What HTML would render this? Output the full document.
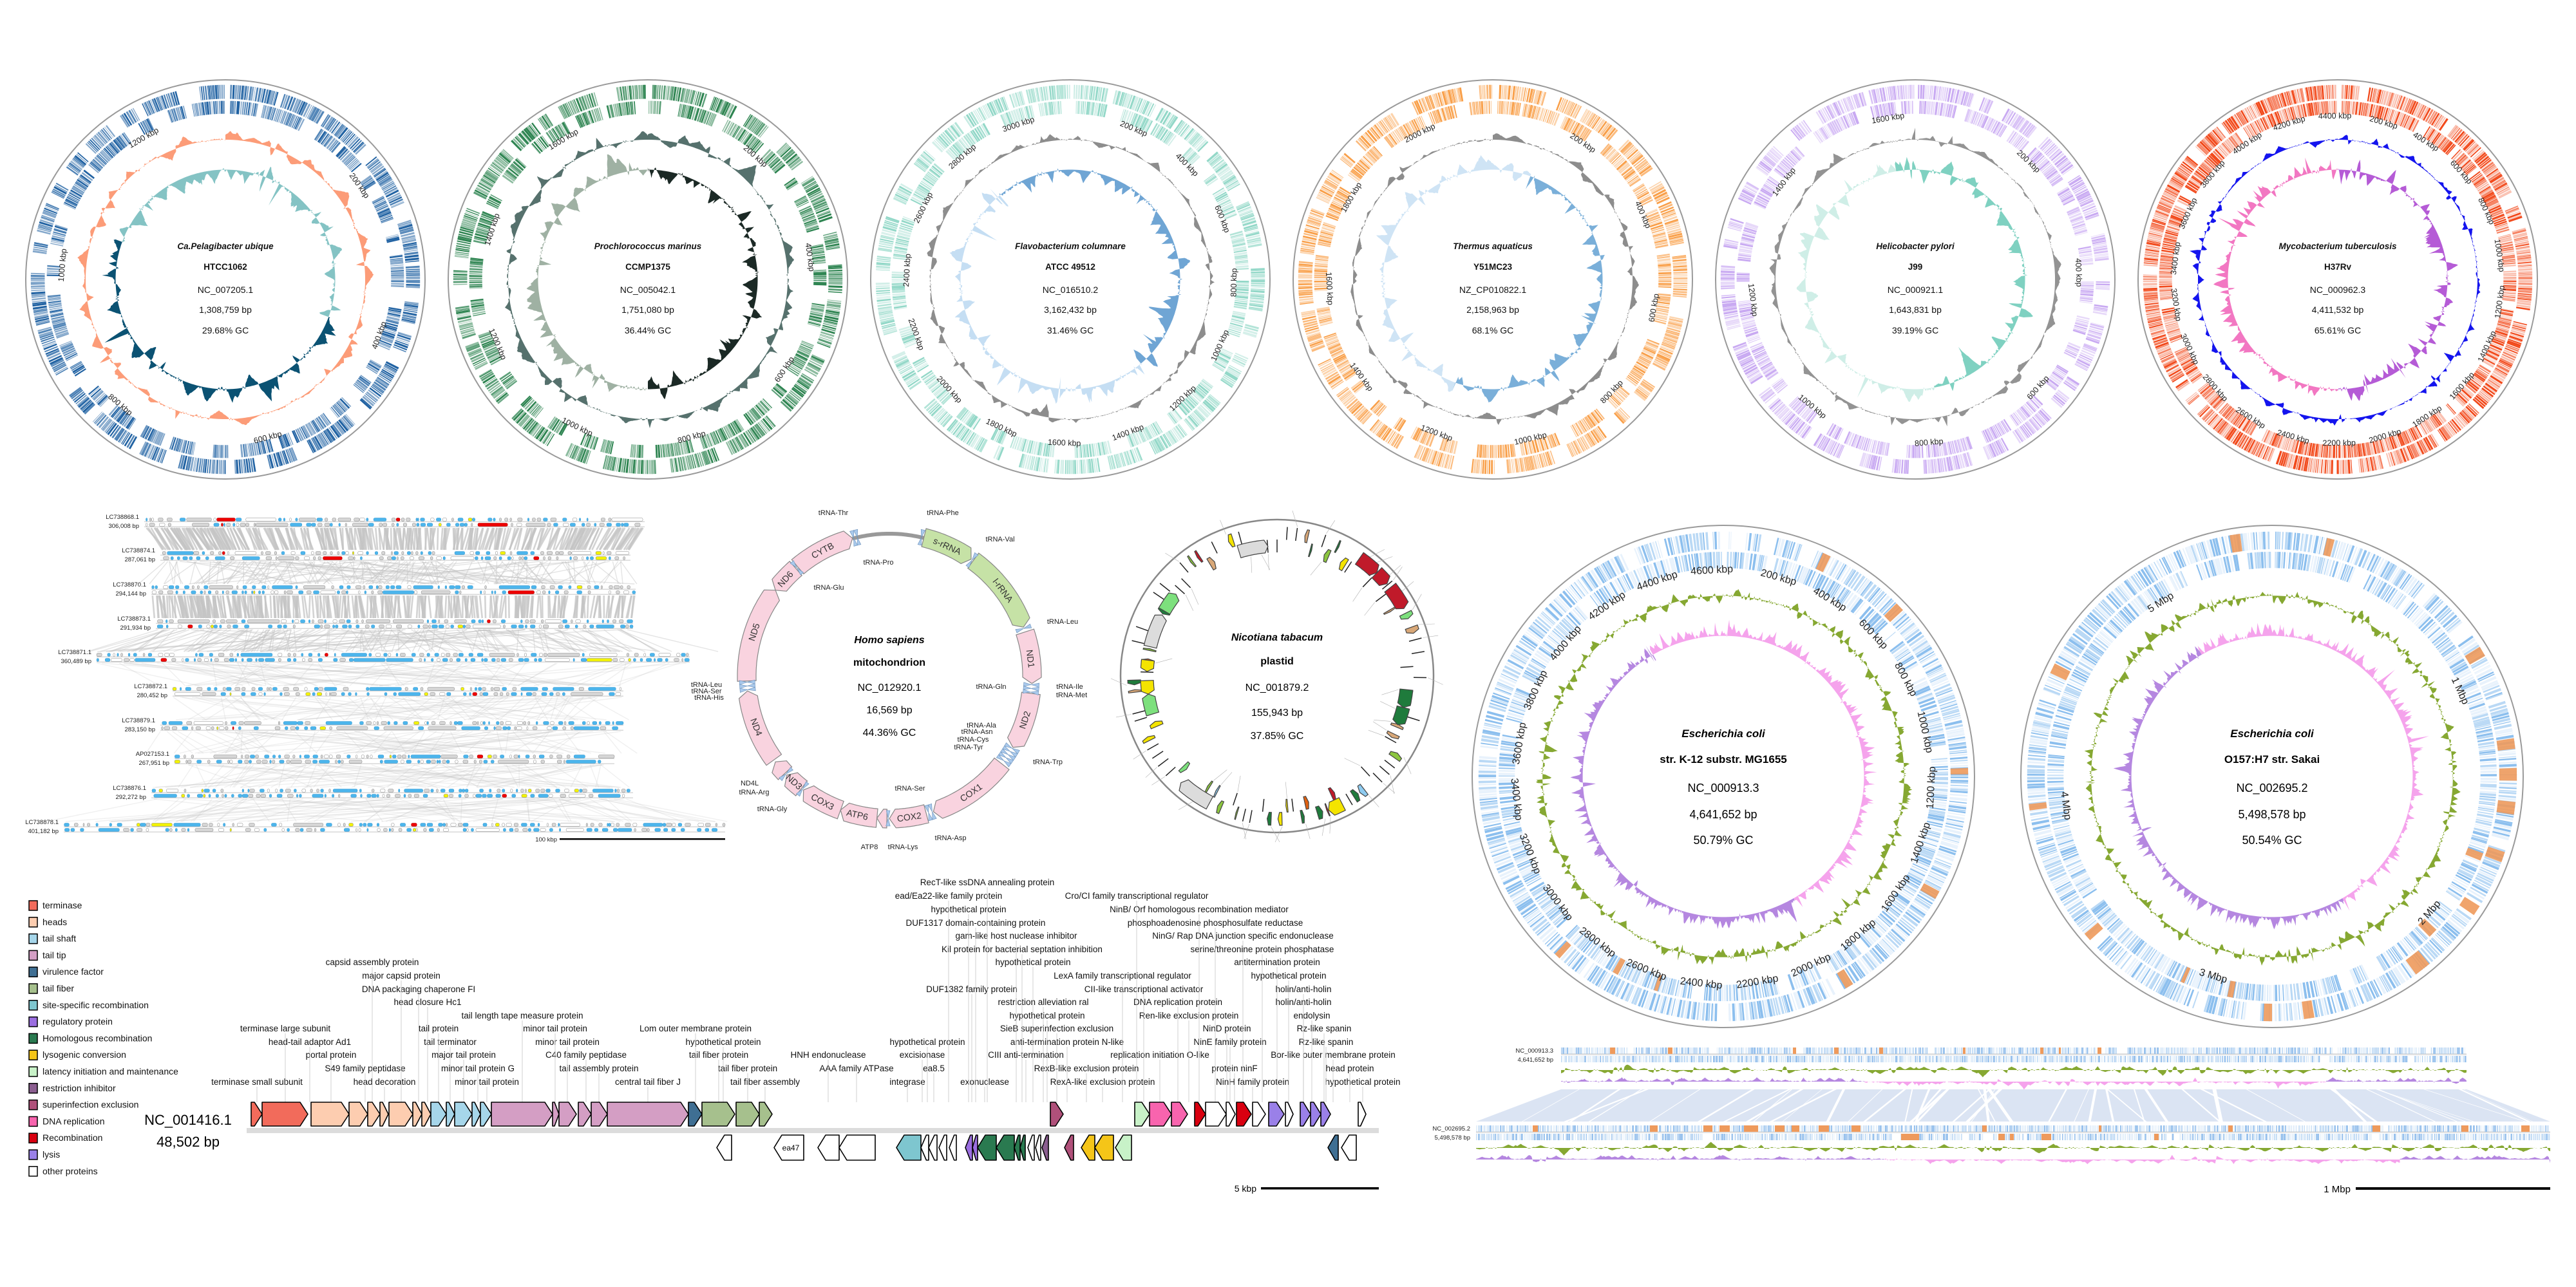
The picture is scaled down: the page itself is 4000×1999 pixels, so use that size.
<!DOCTYPE html>
<html><head><meta charset="utf-8">
<style>
html,body{margin:0;padding:0;background:#fff;}
svg{display:block;font-family:"Liberation Sans",Arial,sans-serif;}
.t1{font-size:13.5px;font-weight:bold;font-style:italic;text-anchor:middle;fill:#111}
.t2{font-size:13.5px;font-weight:bold;text-anchor:middle;fill:#111}
.t3{font-size:14px;text-anchor:middle;fill:#111}
.tk{font-size:12.5px;text-anchor:middle;fill:#222}
.ek{font-size:16px;text-anchor:middle;fill:#222}
.e1{font-size:17px;font-weight:bold;font-style:italic;text-anchor:middle}
.e2{font-size:17px;font-weight:bold;text-anchor:middle}
.e3{font-size:18px;text-anchor:middle}
.m1{font-size:16px;font-weight:bold;font-style:italic;text-anchor:middle}
.m2{font-size:16px;font-weight:bold;text-anchor:middle}
.m3{font-size:16px;text-anchor:middle}
.mg{font-size:14px;text-anchor:middle;fill:#333}
.tr{font-size:11px;text-anchor:middle;fill:#222}
.gl{font-size:13.5px;text-anchor:middle;fill:#111}
.lg{font-size:14px;fill:#111}
.sy{font-size:9.5px;text-anchor:end;fill:#222}
</style></head>
<body>
<svg id="s" width="4000" height="1999" viewBox="0 0 4000 1999" xmlns="http://www.w3.org/2000/svg">
<rect width="4000" height="1999" fill="#fff"/>
<g id="gen"></g>
<g id="txt">
<text class="t1" x="350" y="387">Ca.Pelagibacter ubique</text>
<text class="t2" x="350" y="419">HTCC1062</text>
<text class="t3" x="350" y="455">NC_007205.1</text>
<text class="t3" x="350" y="486">1,308,759 bp</text>
<text class="t3" x="350" y="518">29.68% GC</text>

<text class="t1" x="1006" y="387">Prochlorococcus marinus</text>
<text class="t2" x="1006" y="419">CCMP1375</text>
<text class="t3" x="1006" y="455">NC_005042.1</text>
<text class="t3" x="1006" y="486">1,751,080 bp</text>
<text class="t3" x="1006" y="518">36.44% GC</text>

<text class="t1" x="1662" y="387">Flavobacterium columnare</text>
<text class="t2" x="1662" y="419">ATCC 49512</text>
<text class="t3" x="1662" y="455">NC_016510.2</text>
<text class="t3" x="1662" y="486">3,162,432 bp</text>
<text class="t3" x="1662" y="518">31.46% GC</text>

<text class="t1" x="2318" y="387">Thermus aquaticus</text>
<text class="t2" x="2318" y="419">Y51MC23</text>
<text class="t3" x="2318" y="455">NZ_CP010822.1</text>
<text class="t3" x="2318" y="486">2,158,963 bp</text>
<text class="t3" x="2318" y="518">68.1% GC</text>

<text class="t1" x="2974" y="387">Helicobacter pylori</text>
<text class="t2" x="2974" y="419">J99</text>
<text class="t3" x="2974" y="455">NC_000921.1</text>
<text class="t3" x="2974" y="486">1,643,831 bp</text>
<text class="t3" x="2974" y="518">39.19% GC</text>

<text class="t1" x="3630" y="387">Mycobacterium tuberculosis</text>
<text class="t2" x="3630" y="419">H37Rv</text>
<text class="t3" x="3630" y="455">NC_000962.3</text>
<text class="t3" x="3630" y="486">4,411,532 bp</text>
<text class="t3" x="3630" y="518">65.61% GC</text>

<text class="tk" transform="rotate(55 350 434)" x="350" y="184">200 kbp</text>
<text class="tk" transform="rotate(-70 350 434)" x="350" y="692">400 kbp</text>
<text class="tk" transform="rotate(-15 350 434)" x="350" y="692">600 kbp</text>
<text class="tk" transform="rotate(40 350 434)" x="350" y="692">800 kbp</text>
<text class="tk" transform="rotate(275 350 434)" x="350" y="184">1000 kbp</text>
<text class="tk" transform="rotate(330 350 434)" x="350" y="184">1200 kbp</text>
<text class="tk" transform="rotate(41.1 1006 434)" x="1006" y="184">200 kbp</text>
<text class="tk" transform="rotate(82.2 1006 434)" x="1006" y="184">400 kbp</text>
<text class="tk" transform="rotate(-56.6 1006 434)" x="1006" y="692">600 kbp</text>
<text class="tk" transform="rotate(-15.5 1006 434)" x="1006" y="692">800 kbp</text>
<text class="tk" transform="rotate(25.6 1006 434)" x="1006" y="692">1000 kbp</text>
<text class="tk" transform="rotate(66.7 1006 434)" x="1006" y="692">1200 kbp</text>
<text class="tk" transform="rotate(287.8 1006 434)" x="1006" y="184">1400 kbp</text>
<text class="tk" transform="rotate(328.9 1006 434)" x="1006" y="184">1600 kbp</text>
<text class="tk" transform="rotate(22.8 1662 434)" x="1662" y="184">200 kbp</text>
<text class="tk" transform="rotate(45.5 1662 434)" x="1662" y="184">400 kbp</text>
<text class="tk" transform="rotate(68.3 1662 434)" x="1662" y="184">600 kbp</text>
<text class="tk" transform="rotate(-88.9 1662 434)" x="1662" y="692">800 kbp</text>
<text class="tk" transform="rotate(-66.2 1662 434)" x="1662" y="692">1000 kbp</text>
<text class="tk" transform="rotate(-43.4 1662 434)" x="1662" y="692">1200 kbp</text>
<text class="tk" transform="rotate(-20.6 1662 434)" x="1662" y="692">1400 kbp</text>
<text class="tk" transform="rotate(2.1 1662 434)" x="1662" y="692">1600 kbp</text>
<text class="tk" transform="rotate(24.9 1662 434)" x="1662" y="692">1800 kbp</text>
<text class="tk" transform="rotate(47.7 1662 434)" x="1662" y="692">2000 kbp</text>
<text class="tk" transform="rotate(70.4 1662 434)" x="1662" y="692">2200 kbp</text>
<text class="tk" transform="rotate(273.2 1662 434)" x="1662" y="184">2400 kbp</text>
<text class="tk" transform="rotate(296 1662 434)" x="1662" y="184">2600 kbp</text>
<text class="tk" transform="rotate(318.7 1662 434)" x="1662" y="184">2800 kbp</text>
<text class="tk" transform="rotate(341.5 1662 434)" x="1662" y="184">3000 kbp</text>
<text class="tk" transform="rotate(33.4 2318 434)" x="2318" y="184">200 kbp</text>
<text class="tk" transform="rotate(66.7 2318 434)" x="2318" y="184">400 kbp</text>
<text class="tk" transform="rotate(-80 2318 434)" x="2318" y="692">600 kbp</text>
<text class="tk" transform="rotate(-46.6 2318 434)" x="2318" y="692">800 kbp</text>
<text class="tk" transform="rotate(-13.3 2318 434)" x="2318" y="692">1000 kbp</text>
<text class="tk" transform="rotate(20.1 2318 434)" x="2318" y="692">1200 kbp</text>
<text class="tk" transform="rotate(53.4 2318 434)" x="2318" y="692">1400 kbp</text>
<text class="tk" transform="rotate(86.8 2318 434)" x="2318" y="692">1600 kbp</text>
<text class="tk" transform="rotate(300.1 2318 434)" x="2318" y="184">1800 kbp</text>
<text class="tk" transform="rotate(333.5 2318 434)" x="2318" y="184">2000 kbp</text>
<text class="tk" transform="rotate(43.8 2974 434)" x="2974" y="184">200 kbp</text>
<text class="tk" transform="rotate(87.6 2974 434)" x="2974" y="184">400 kbp</text>
<text class="tk" transform="rotate(-48.6 2974 434)" x="2974" y="692">600 kbp</text>
<text class="tk" transform="rotate(-4.8 2974 434)" x="2974" y="692">800 kbp</text>
<text class="tk" transform="rotate(39 2974 434)" x="2974" y="692">1000 kbp</text>
<text class="tk" transform="rotate(82.8 2974 434)" x="2974" y="692">1200 kbp</text>
<text class="tk" transform="rotate(306.6 2974 434)" x="2974" y="184">1400 kbp</text>
<text class="tk" transform="rotate(350.4 2974 434)" x="2974" y="184">1600 kbp</text>
<text class="tk" transform="rotate(16.3 3630 434)" x="3630" y="184">200 kbp</text>
<text class="tk" transform="rotate(32.6 3630 434)" x="3630" y="184">400 kbp</text>
<text class="tk" transform="rotate(49 3630 434)" x="3630" y="184">600 kbp</text>
<text class="tk" transform="rotate(65.3 3630 434)" x="3630" y="184">800 kbp</text>
<text class="tk" transform="rotate(81.6 3630 434)" x="3630" y="184">1000 kbp</text>
<text class="tk" transform="rotate(-82.1 3630 434)" x="3630" y="692">1200 kbp</text>
<text class="tk" transform="rotate(-65.8 3630 434)" x="3630" y="692">1400 kbp</text>
<text class="tk" transform="rotate(-49.4 3630 434)" x="3630" y="692">1600 kbp</text>
<text class="tk" transform="rotate(-33.1 3630 434)" x="3630" y="692">1800 kbp</text>
<text class="tk" transform="rotate(-16.8 3630 434)" x="3630" y="692">2000 kbp</text>
<text class="tk" transform="rotate(-0.5 3630 434)" x="3630" y="692">2200 kbp</text>
<text class="tk" transform="rotate(15.8 3630 434)" x="3630" y="692">2400 kbp</text>
<text class="tk" transform="rotate(32.2 3630 434)" x="3630" y="692">2600 kbp</text>
<text class="tk" transform="rotate(48.5 3630 434)" x="3630" y="692">2800 kbp</text>
<text class="tk" transform="rotate(64.8 3630 434)" x="3630" y="692">3000 kbp</text>
<text class="tk" transform="rotate(81.1 3630 434)" x="3630" y="692">3200 kbp</text>
<text class="tk" transform="rotate(277.4 3630 434)" x="3630" y="184">3400 kbp</text>
<text class="tk" transform="rotate(293.8 3630 434)" x="3630" y="184">3600 kbp</text>
<text class="tk" transform="rotate(310.1 3630 434)" x="3630" y="184">3800 kbp</text>
<text class="tk" transform="rotate(326.4 3630 434)" x="3630" y="184">4000 kbp</text>
<text class="tk" transform="rotate(342.7 3630 434)" x="3630" y="184">4200 kbp</text>
<text class="tk" transform="rotate(359 3630 434)" x="3630" y="184">4400 kbp</text>

<text class="e1" x="2676" y="1145">Escherichia coli</text>
<text class="e2" x="2676" y="1185">str. K-12 substr. MG1655</text>
<text class="e3" x="2676" y="1230">NC_000913.3</text>
<text class="e3" x="2676" y="1271">4,641,652 bp</text>
<text class="e3" x="2676" y="1311">50.79% GC</text>
<text class="e1" x="3528" y="1145">Escherichia coli</text>
<text class="e2" x="3528" y="1185">O157:H7 str. Sakai</text>
<text class="e3" x="3528" y="1230">NC_002695.2</text>
<text class="e3" x="3528" y="1271">5,498,578 bp</text>
<text class="e3" x="3528" y="1311">50.54% GC</text>

<text class="ek" transform="rotate(15.5 2676 1206)" x="2676" y="890">200 kbp</text>
<text class="ek" transform="rotate(31 2676 1206)" x="2676" y="890">400 kbp</text>
<text class="ek" transform="rotate(46.5 2676 1206)" x="2676" y="890">600 kbp</text>
<text class="ek" transform="rotate(62 2676 1206)" x="2676" y="890">800 kbp</text>
<text class="ek" transform="rotate(77.6 2676 1206)" x="2676" y="890">1000 kbp</text>
<text class="ek" transform="rotate(-86.9 2676 1206)" x="2676" y="1534">1200 kbp</text>
<text class="ek" transform="rotate(-71.4 2676 1206)" x="2676" y="1534">1400 kbp</text>
<text class="ek" transform="rotate(-55.9 2676 1206)" x="2676" y="1534">1600 kbp</text>
<text class="ek" transform="rotate(-40.4 2676 1206)" x="2676" y="1534">1800 kbp</text>
<text class="ek" transform="rotate(-24.9 2676 1206)" x="2676" y="1534">2000 kbp</text>
<text class="ek" transform="rotate(-9.4 2676 1206)" x="2676" y="1534">2200 kbp</text>
<text class="ek" transform="rotate(6.1 2676 1206)" x="2676" y="1534">2400 kbp</text>
<text class="ek" transform="rotate(21.7 2676 1206)" x="2676" y="1534">2600 kbp</text>
<text class="ek" transform="rotate(37.2 2676 1206)" x="2676" y="1534">2800 kbp</text>
<text class="ek" transform="rotate(52.7 2676 1206)" x="2676" y="1534">3000 kbp</text>
<text class="ek" transform="rotate(68.2 2676 1206)" x="2676" y="1534">3200 kbp</text>
<text class="ek" transform="rotate(83.7 2676 1206)" x="2676" y="1534">3400 kbp</text>
<text class="ek" transform="rotate(279.2 2676 1206)" x="2676" y="890">3600 kbp</text>
<text class="ek" transform="rotate(294.7 2676 1206)" x="2676" y="890">3800 kbp</text>
<text class="ek" transform="rotate(310.2 2676 1206)" x="2676" y="890">4000 kbp</text>
<text class="ek" transform="rotate(325.7 2676 1206)" x="2676" y="890">4200 kbp</text>
<text class="ek" transform="rotate(341.3 2676 1206)" x="2676" y="890">4400 kbp</text>
<text class="ek" transform="rotate(356.8 2676 1206)" x="2676" y="890">4600 kbp</text>
<text class="ek" transform="rotate(65.5 3528 1206)" x="3528" y="890">1 Mbp</text>
<text class="ek" transform="rotate(-49.1 3528 1206)" x="3528" y="1534">2 Mbp</text>
<text class="ek" transform="rotate(16.4 3528 1206)" x="3528" y="1534">3 Mbp</text>
<text class="ek" transform="rotate(81.9 3528 1206)" x="3528" y="1534">4 Mbp</text>
<text class="ek" transform="rotate(327.4 3528 1206)" x="3528" y="890">5 Mbp</text>

<text class="sy" x="2412" y="1635">NC_000913.3</text>
<text class="sy" x="2412" y="1649">4,641,652 bp</text>
<text class="sy" x="2283" y="1756">NC_002695.2</text>
<text class="sy" x="2283" y="1770">5,498,578 bp</text>
<text x="3650" y="1852" style="font-size:15px;text-anchor:end">1 Mbp</text>
<rect x="3658" y="1844" width="302" height="4" fill="#000"/>

<text class="m1" x="1381" y="999">Homo sapiens</text>
<text class="m2" x="1381" y="1034">mitochondrion</text>
<text class="m3" x="1381" y="1073">NC_012920.1</text>
<text class="m3" x="1381" y="1108">16,569 bp</text>
<text class="m3" x="1381" y="1143">44.36% GC</text>
<text class="mg" transform="rotate(24 1381 1050)" x="1381" y="834">s-rRNA</text>
<text class="mg" transform="rotate(53 1381 1050)" x="1381" y="834">l-rRNA</text>
<text class="mg" transform="rotate(83 1381 1050)" x="1381" y="834">ND1</text>
<text class="mg" transform="rotate(-72 1381 1050)" x="1381" y="1276">ND2</text>
<text class="mg" transform="rotate(-35 1381 1050)" x="1381" y="1276">COX1</text>
<text class="mg" transform="rotate(-8 1381 1050)" x="1381" y="1276">COX2</text>
<text class="mg" transform="rotate(13 1381 1050)" x="1381" y="1276">ATP6</text>
<text class="mg" transform="rotate(28 1381 1050)" x="1381" y="1276">COX3</text>
<text class="mg" transform="rotate(42 1381 1050)" x="1381" y="1276">ND3</text>
<text class="mg" transform="rotate(69 1381 1050)" x="1381" y="1276">ND4</text>
<text class="mg" transform="rotate(288 1381 1050)" x="1381" y="834">ND5</text>
<text class="mg" transform="rotate(313 1381 1050)" x="1381" y="834">ND6</text>
<text class="mg" transform="rotate(332 1381 1050)" x="1381" y="834">CYTB</text>
<text class="tr" x="1294" y="800">tRNA-Thr</text>
<text class="tr" x="1464" y="800">tRNA-Phe</text>
<text class="tr" x="1553" y="841">tRNA-Val</text>
<text class="tr" x="1364" y="877">tRNA-Pro</text>
<text class="tr" x="1287" y="916">tRNA-Glu</text>
<text class="tr" x="1650" y="969">tRNA-Leu</text>
<text class="tr" x="1539" y="1070">tRNA-Gln</text>
<text class="tr" x="1661" y="1070">tRNA-Ile</text>
<text class="tr" x="1664" y="1083">tRNA-Met</text>
<text class="tr" x="1524" y="1130">tRNA-Ala</text>
<text class="tr" x="1517" y="1140">tRNA-Asn</text>
<text class="tr" x="1511" y="1152">tRNA-Cys</text>
<text class="tr" x="1504" y="1164">tRNA-Tyr</text>
<text class="tr" x="1627" y="1187">tRNA-Trp</text>
<text class="tr" x="1413" y="1228">tRNA-Ser</text>
<text class="tr" x="1476" y="1305">tRNA-Asp</text>
<text class="tr" x="1350" y="1319">ATP8</text>
<text class="tr" x="1402" y="1319">tRNA-Lys</text>
<text class="tr" x="1199" y="1260">tRNA-Gly</text>
<text class="tr" x="1171" y="1234">tRNA-Arg</text>
<text class="tr" x="1164" y="1220">ND4L</text>
<text class="tr" x="1097" y="1067">tRNA-Leu</text>
<text class="tr" x="1097" y="1077">tRNA-Ser</text>
<text class="tr" x="1101" y="1087">tRNA-His</text>

<text class="m1" x="1983" y="995">Nicotiana tabacum</text>
<text class="m2" x="1983" y="1032">plastid</text>
<text class="m3" x="1983" y="1073">NC_001879.2</text>
<text class="m3" x="1983" y="1112">155,943 bp</text>
<text class="m3" x="1983" y="1148">37.85% GC</text>

<text class="sy" x="216" y="806">LC738868.1</text><text class="sy" x="216" y="820">306,008 bp</text>
<text class="sy" x="241" y="858">LC738874.1</text><text class="sy" x="241" y="872">287,061 bp</text>
<text class="sy" x="227" y="911">LC738870.1</text><text class="sy" x="227" y="925">294,144 bp</text>
<text class="sy" x="234" y="964">LC738873.1</text><text class="sy" x="234" y="978">291,934 bp</text>
<text class="sy" x="142" y="1016">LC738871.1</text><text class="sy" x="142" y="1030">360,489 bp</text>
<text class="sy" x="260" y="1069">LC738872.1</text><text class="sy" x="260" y="1083">280,452 bp</text>
<text class="sy" x="241" y="1122">LC738879.1</text><text class="sy" x="241" y="1136">283,150 bp</text>
<text class="sy" x="263" y="1174">AP027153.1</text><text class="sy" x="263" y="1188">267,951 bp</text>
<text class="sy" x="227" y="1227">LC738876.1</text><text class="sy" x="227" y="1241">292,272 bp</text>
<text class="sy" x="91" y="1280">LC738878.1</text><text class="sy" x="91" y="1294">401,182 bp</text>
<text class="sy" x="865" y="1307">100 kbp</text>
<rect x="869" y="1302" width="257" height="2.5" fill="#000"/>

<g id="legend">
<rect x="45" y="1399" width="13" height="15" fill="#f26b5b" stroke="#000" stroke-width="1.5"/><text class="lg" x="66" y="1411">terminase</text>
<rect x="45" y="1424.8" width="13" height="15" fill="#fdcdb0" stroke="#000" stroke-width="1.5"/><text class="lg" x="66" y="1436.8">heads</text>
<rect x="45" y="1450.6" width="13" height="15" fill="#a6d6ea" stroke="#000" stroke-width="1.5"/><text class="lg" x="66" y="1462.6">tail shaft</text>
<rect x="45" y="1476.4" width="13" height="15" fill="#d49ec4" stroke="#000" stroke-width="1.5"/><text class="lg" x="66" y="1488.4">tail tip</text>
<rect x="45" y="1502.2" width="13" height="15" fill="#3f6f93" stroke="#000" stroke-width="1.5"/><text class="lg" x="66" y="1514.2">virulence factor</text>
<rect x="45" y="1528" width="13" height="15" fill="#a6c08d" stroke="#000" stroke-width="1.5"/><text class="lg" x="66" y="1540">tail fiber</text>
<rect x="45" y="1553.8" width="13" height="15" fill="#7ec6cf" stroke="#000" stroke-width="1.5"/><text class="lg" x="66" y="1565.8">site-specific recombination</text>
<rect x="45" y="1579.6" width="13" height="15" fill="#9b6ee0" stroke="#000" stroke-width="1.5"/><text class="lg" x="66" y="1591.6">regulatory protein</text>
<rect x="45" y="1605.4" width="13" height="15" fill="#2a7a50" stroke="#000" stroke-width="1.5"/><text class="lg" x="66" y="1617.4">Homologous recombination</text>
<rect x="45" y="1631.2" width="13" height="15" fill="#f5c518" stroke="#000" stroke-width="1.5"/><text class="lg" x="66" y="1643.2">lysogenic conversion</text>
<rect x="45" y="1657" width="13" height="15" fill="#c8f2c8" stroke="#000" stroke-width="1.5"/><text class="lg" x="66" y="1669">latency initiation and maintenance</text>
<rect x="45" y="1682.8" width="13" height="15" fill="#8b5e90" stroke="#000" stroke-width="1.5"/><text class="lg" x="66" y="1694.8">restriction inhibitor</text>
<rect x="45" y="1708.6" width="13" height="15" fill="#b0507a" stroke="#000" stroke-width="1.5"/><text class="lg" x="66" y="1720.6">superinfection exclusion</text>
<rect x="45" y="1734.4" width="13" height="15" fill="#f864ae" stroke="#000" stroke-width="1.5"/><text class="lg" x="66" y="1746.4">DNA replication</text>
<rect x="45" y="1760.2" width="13" height="15" fill="#d90010" stroke="#000" stroke-width="1.5"/><text class="lg" x="66" y="1772.2">Recombination</text>
<rect x="45" y="1786" width="13" height="15" fill="#9a80e8" stroke="#000" stroke-width="1.5"/><text class="lg" x="66" y="1798">lysis</text>
<rect x="45" y="1811.8" width="13" height="15" fill="#fff" stroke="#000" stroke-width="1.5"/><text class="lg" x="66" y="1823.8">other proteins</text>
</g>

<text x="292" y="1747" style="font-size:22px;text-anchor:middle">NC_001416.1</text>
<text x="292" y="1781" style="font-size:22px;text-anchor:middle">48,502 bp</text>
<text x="1951" y="1851" style="font-size:14px;text-anchor:end">5 kbp</text>
<rect x="1958" y="1844" width="183" height="3.5" fill="#000"/>
<rect x="383" y="1752" width="1758" height="8" fill="#dcdcdc"/>

<g id="glabels">
<text class="gl" x="1533" y="1375">RecT-like ssDNA annealing protein</text>
<text class="gl" x="1473" y="1396">ead/Ea22-like family protein</text>
<text class="gl" x="1765" y="1396">Cro/CI family transcriptional regulator</text>
<text class="gl" x="1504" y="1417">hypothetical protein</text>
<text class="gl" x="1862" y="1417">NinB/ Orf homologous recombination mediator</text>
<text class="gl" x="1515" y="1438">DUF1317 domain-containing protein</text>
<text class="gl" x="1887" y="1438">phosphoadenosine phosphosulfate reductase</text>
<text class="gl" x="1578" y="1458">gam-like host nuclease inhibitor</text>
<text class="gl" x="1930" y="1458">NinG/ Rap DNA junction specific endonuclease</text>
<text class="gl" x="1587" y="1479">Kil protein for bacterial septation inhibition</text>
<text class="gl" x="1960" y="1479">serine/threonine protein phosphatase</text>
<text class="gl" x="578" y="1499">capsid assembly protein</text>
<text class="gl" x="1604" y="1499">hypothetical protein</text>
<text class="gl" x="1983" y="1499">antitermination protein</text>
<text class="gl" x="623" y="1520">major capsid protein</text>
<text class="gl" x="1743" y="1520">LexA family transcriptional regulator</text>
<text class="gl" x="2001" y="1520">hypothetical protein</text>
<text class="gl" x="650" y="1541">DNA packaging chaperone FI</text>
<text class="gl" x="1509" y="1541">DUF1382 family protein</text>
<text class="gl" x="1776" y="1541">CII-like transcriptional activator</text>
<text class="gl" x="2024" y="1541">holin/anti-holin</text>
<text class="gl" x="664" y="1561">head closure Hc1</text>
<text class="gl" x="1620" y="1561">restriction alleviation ral</text>
<text class="gl" x="1829" y="1561">DNA replication protein</text>
<text class="gl" x="2024" y="1561">holin/anti-holin</text>
<text class="gl" x="811" y="1582">tail length tape measure protein</text>
<text class="gl" x="1626" y="1582">hypothetical protein</text>
<text class="gl" x="1846" y="1582">Ren-like exclusion protein</text>
<text class="gl" x="2037" y="1582">endolysin</text>
<text class="gl" x="443" y="1602">terminase large subunit</text>
<text class="gl" x="681" y="1602">tail protein</text>
<text class="gl" x="862" y="1602">minor tail protein</text>
<text class="gl" x="1080" y="1602">Lom outer membrane protein</text>
<text class="gl" x="1641" y="1602">SieB superinfection exclusion</text>
<text class="gl" x="1905" y="1602">NinD protein</text>
<text class="gl" x="2056" y="1602">Rz-like spanin</text>
<text class="gl" x="481" y="1623">head-tail adaptor Ad1</text>
<text class="gl" x="699" y="1623">tail terminator</text>
<text class="gl" x="881" y="1623">minor tail protein</text>
<text class="gl" x="1123" y="1623">hypothetical protein</text>
<text class="gl" x="1440" y="1623">hypothetical protein</text>
<text class="gl" x="1657" y="1623">anti-termination protein N-like</text>
<text class="gl" x="1910" y="1623">NinE family protein</text>
<text class="gl" x="2059" y="1623">Rz-like spanin</text>
<text class="gl" x="514" y="1643">portal protein</text>
<text class="gl" x="720" y="1643">major tail protein</text>
<text class="gl" x="910" y="1643">C40 family peptidase</text>
<text class="gl" x="1116" y="1643">tail fiber protein</text>
<text class="gl" x="1286" y="1643">HNH endonuclease</text>
<text class="gl" x="1432" y="1643">excisionase</text>
<text class="gl" x="1593" y="1643">CIII anti-termination</text>
<text class="gl" x="1801" y="1643">replication initiation O-like</text>
<text class="gl" x="2070" y="1643">Bor-like outer membrane protein</text>
<text class="gl" x="567" y="1664">S49 family peptidase</text>
<text class="gl" x="742" y="1664">minor tail protein G</text>
<text class="gl" x="930" y="1664">tail assembly protein</text>
<text class="gl" x="1161" y="1664">tail fiber protein</text>
<text class="gl" x="1330" y="1664">AAA family ATPase</text>
<text class="gl" x="1450" y="1664">ea8.5</text>
<text class="gl" x="1687" y="1664">RexB-like exclusion protein</text>
<text class="gl" x="1917" y="1664">protein ninF</text>
<text class="gl" x="2096" y="1664">head protein</text>
<text class="gl" x="399" y="1685">terminase small subunit</text>
<text class="gl" x="597" y="1685">head decoration</text>
<text class="gl" x="756" y="1685">minor tail protein</text>
<text class="gl" x="1006" y="1685">central tail fiber J</text>
<text class="gl" x="1188" y="1685">tail fiber assembly</text>
<text class="gl" x="1409" y="1685">integrase</text>
<text class="gl" x="1529" y="1685">exonuclease</text>
<text class="gl" x="1712" y="1685">RexA-like exclusion protein</text>
<text class="gl" x="1945" y="1685">NinH family protein</text>
<text class="gl" x="2116" y="1685">hypothetical protein</text>
</g>
<g id="lamgenes"></g>
<text x="1228" y="1787" style="font-size:12px;text-anchor:middle">ea47</text>
</g>
</svg>
<script>
(function(){
var NS='http://www.w3.org/2000/svg';
var G=document.getElementById('gen');
var LG=document.getElementById('lamgenes');
var seed=987654;
function rnd(){seed=(seed*16807)%2147483647;return (seed-1)/2147483646;}
function el(tag,a,p){var e=document.createElementNS(NS,tag);for(var k in a)e.setAttribute(k,a[k]);(p||G).appendChild(e);return e;}
function P(cx,cy,r,a){var t=(a-90)*Math.PI/180;return (cx+r*Math.cos(t)).toFixed(1)+','+(cy+r*Math.sin(t)).toFixed(1);}
function wedge(cx,cy,r1,r2,a1,a2){return 'M'+P(cx,cy,r1,a1)+'L'+P(cx,cy,r2,a1)+'L'+P(cx,cy,r2,a2)+'L'+P(cx,cy,r1,a2)+'Z';}
function geneRing(cx,cy,r1,r2,col,dens,opmin,clus){
  var d=['','',''];var a=rnd()*2;var segEnd=clus?a+3+rnd()*14:999;
  while(a<360){var w=0.15+rnd()*0.5;var b=Math.floor(rnd()*3);
    if(a+w<360)d[b]+=wedge(cx,cy,r1,r2,a,a+w);
    a+=w+rnd()*dens;
    if(clus){if(a>segEnd){a+=0.8+rnd()*6;segEnd=a+2+rnd()*14;}}
    else if(rnd()<0.03)a+=rnd()*4;}
  var ops=[opmin,(opmin+1)/2,1];
  for(var i=0;i<3;i++)el('path',{d:d[i],fill:col,'fill-opacity':ops[i]});
}
function series(N,amp,bias,wmax,kd,noise){var v=[];var i,k,j;
  for(i=0;i<N;i++){var s=(rnd()<0.5+bias)?1:-1;v.push(s*rnd()*amp*noise);}
  var K=Math.floor(N/kd);
  for(k=0;k<K;k++){var c=Math.floor(rnd()*N),w=1+Math.floor(rnd()*wmax);var sg=(rnd()<0.5+bias)?1:-1;
    var h=sg*amp*(0.15+rnd()*0.6);if(rnd()<0.05)h*=1.9;
    for(j=-w;j<=w;j++){i=c+j;if(i>=0&&i<N){var val=h*(1-Math.abs(j)/(w+1))*(0.85+rnd()*0.15);if(Math.abs(val)>Math.abs(v[i]))v[i]=val;}}}
  return v;}
function area(cx,cy,rb,a0,a1,v,col){var N=v.length;var d='M';var i;
  for(i=0;i<N;i++){var a=a0+(a1-a0)*i/(N-1);d+=(i?'L':'')+P(cx,cy,rb+v[i],a);}
  var M=Math.max(8,Math.ceil(Math.abs(a1-a0)));
  for(i=M;i>=0;i--){d+='L'+P(cx,cy,rb,a0+(a1-a0)*i/M);}
  d+='Z';el('path',{d:d,fill:col});}
function circ(o){var cx=o.cx,cy=o.cy,R=o.R;
  el('circle',{cx:cx,cy:cy,r:R,fill:'none',stroke:'#9a9a9a','stroke-width':2});
  geneRing(cx,cy,R*0.905,R*0.975,o.gc,o.dens,o.opmin,o.clus);
  geneRing(cx,cy,R*0.83,R*0.895,o.gc,o.dens,o.opmin,o.clus);
  area(cx,cy,R*o.r1,0,360,series(o.n1,R*o.amp1,o.b1||0,o.wmax,o.kd,o.noise),o.c1);
  area(cx,cy,R*o.r2,o.off,o.off+180,series(o.n1/2,R*o.amp2,o.b2a,o.wmax,o.kd,o.noise),o.c2a);
  area(cx,cy,R*o.r2,o.off+180,o.off+360,series(o.n1/2,R*o.amp2,o.b2b,o.wmax,o.kd,o.noise),o.c2b);
  if(o.orange){o.orange.forEach(function(q){el('path',{d:wedge(cx,cy,R*q[0],R*q[1],q[2],q[2]+q[3]),fill:'#ee9a5c','fill-opacity':0.9});});}
}
var base={cy:434,R:310,dens:0.35,opmin:0.55,clus:true,r1:0.70,amp1:0.07,r2:0.55,amp2:0.11,b1:0.25,b2a:-0.3,b2b:0.3,n1:720,wmax:9,kd:10,noise:0.12};
function mk(o){var r={};for(var k in base)r[k]=base[k];for(k in o)r[k]=o[k];return r;}
circ(mk({cx:350,gc:'#2263a3',c1:'#fc9c78',c2a:'#84c3c4',c2b:'#0b5273',off:-70}));
circ(mk({cx:1006,gc:'#2f8552',c1:'#56716d',c2a:'#1b2925',c2b:'#9fb1a3',off:0}));
circ(mk({cx:1662,gc:'#93d8c8',opmin:0.4,c1:'#8d8d8d',amp1:0.05,c2a:'#6fa5d4',c2b:'#c5def3',off:-40}));
circ(mk({cx:2318,gc:'#f9a04a',opmin:0.45,c1:'#8d8d8d',amp1:0.05,c2a:'#7aafd9',c2b:'#cfe4f5',off:20}));
circ(mk({cx:2974,gc:'#c9aaf2',opmin:0.45,c1:'#939393',amp1:0.05,c2a:'#7fd1c1',c2b:'#cfeee7',off:-10}));
circ(mk({cx:3630,gc:'#f24a1c',dens:0.3,opmin:0.35,clus:false,c1:'#1414ee',amp1:0.045,c2a:'#b55bd6',c2b:'#f277c2',off:0,wmax:5,kd:6}));
var eb={cy:1206,R:390,dens:0.45,opmin:0.2,clus:false,gc:'#8cbfee',r1:0.72,amp1:0.05,c1:'#86a832',r2:0.56,amp2:0.075,c2a:'#f5a3ec',c2b:'#b587e0',off:-30,b1:0,b2a:0.45,b2b:0.45,n1:1100,wmax:4,kd:5,noise:0.18};
function mke(o){var r={};for(var k in eb)r[k]=eb[k];for(k in o)r[k]=o[k];return r;}
circ(mke({cx:2676,orange:[[0.905,0.975,24,2],[0.905,0.975,45,2.2],[0.905,0.975,88,1.5],[0.905,0.975,118,2],[0.905,0.975,148,2],[0.83,0.895,197,1],[0.83,0.895,208,1.5],[0.905,0.975,222,1.5]]}));
circ(mke({cx:3528,orange:[[0.905,0.975,350,2.5],[0.905,0.975,13,1.8],[0.905,0.975,58,2.5],[0.905,0.975,81,2.5],[0.905,0.975,88,3],[0.905,0.975,96,3],[0.905,0.975,108,2.5],[0.905,0.975,122,2.5],[0.905,0.975,140,4],[0.905,0.975,170,2.5],[0.905,0.975,180,2],[0.905,0.975,295,2.5],[0.83,0.895,110,2],[0.83,0.895,133,2.5],[0.83,0.895,203,1],[0.905,0.975,228,2],[0.905,0.975,262,1.5],[0.83,0.895,190,1.5]]}));

function linTrack(x1,x2,y,h,col){var d=['','',''];var x=x1;
  while(x<x2){var w=0.8+rnd()*2.5;if(x+w>x2)break;var b=Math.floor(rnd()*3);
   d[b]+='M'+x.toFixed(1)+','+(y-h/2)+'h'+w.toFixed(1)+'v'+h+'h'+(-w).toFixed(1)+'Z';
   x+=w+rnd()*2.2;if(rnd()<0.02)x+=rnd()*15;}
  [0.2,0.45,0.8].forEach(function(o,i){el('path',{d:d[i],fill:col,'fill-opacity':o});});}
function linGraph(x1,x2,yb,v,col){var N=v.length;var d='M'+x1+','+yb;
  for(var i=0;i<N;i++){d+='L'+(x1+(x2-x1)*i/(N-1)).toFixed(1)+','+(yb-v[i]).toFixed(1);}
  d+='L'+x2+','+yb+'Z';el('path',{d:d,fill:col});}
function ecLin(x1,x2,y,fa,fb,or1,or2){
  el('rect',{x:x1,y:y+4,width:x2-x1,height:3,fill:'#e2e2e2'});
  linTrack(x1,x2,y,10,'#7fb3e8');linTrack(x1,x2,y+13,10,'#7fb3e8');
  or1.forEach(function(q){el('rect',{x:q[0],y:y-5,width:q[1],height:10,fill:'#ee9a5c'});});
  or2.forEach(function(q){el('rect',{x:q[0],y:y+8,width:q[1],height:10,fill:'#ee9a5c'});});
  linGraph(x1,x2,y+30,series(600,9,0,4,5,0.18),'#86a832');
  var W=x2-x1,xa=x1+fa*W,xb=x1+fb*W,n;
  n=Math.round(700*fa);linGraph(x1,xa,y+48,series(n,10,0.45,4,5,0.18),'#b587e0');
  n=Math.round(700*(fb-fa));linGraph(xa,xb,y+48,series(n,10,-0.45,4,5,0.18),'#f5a3ec');
  n=Math.round(700*(1-fb));linGraph(xb,x2,y+48,series(n,10,0.45,4,5,0.18),'#b587e0');
}
el('polygon',{points:'2424,1692 3830,1692 3960,1742 2292,1742',fill:'#dbe4f3'});
for(var k=0;k<45;k++){var t=rnd();var xt=2424+t*1406;var xb=2292+(t+(rnd()-0.5)*0.06)*1668;var w=1+rnd()*5;
  el('polygon',{points:xt.toFixed(1)+',1692 '+(xt+w).toFixed(1)+',1692 '+(xb+w).toFixed(1)+',1742 '+xb.toFixed(1)+',1742',fill:'#fff'});}
ecLin(2424,3830,1632,0.335,0.845,[[2500,8],[2590,7],[2784,5],[2848,7],[2918,6],[3048,4],[3168,5],[3197,3],[3257,6]],[]);
ecLin(2292,3960,1753,0.38,0.86,[[2380,8],[2562,12],[2645,14],[2670,16],[2708,22],[2756,15],[2782,12],[2824,16],[2875,14],[3078,7],[3259,4],[3460,7],[3684,12],[3822,11],[3915,13]],[[2952,28],[3103,10],[3121,6],[3170,15],[3345,7]]);

var rows=[[807,224,1001],[859,249,979],[912,235,987],[965,242,983],[1017,150,1071],[1070,268,968],[1123,249,968],[1175,271,954],[1228,235,983],[1281,99,1126]];
var types=[2,1,2,1,0,0,0,0,0];
for(var i=0;i<9;i++){var a=rows[i],b=rows[i+1];var yt=a[0]+13,yb=b[0]-5;var tp=types[i];
  var n=tp==2?320:tp==1?170:80;
  for(k=0;k<n;k++){var tt=rnd();var x1=a[1]+tt*(a[2]-a[1]);var u;
    if(tp==2)u=tt+(rnd()-0.5)*0.015;else if(tp==1)u=(rnd()<0.8)?tt+(rnd()-0.5)*0.12:rnd();else u=(rnd()<0.4)?tt+(rnd()-0.5)*0.2:rnd();
    var x2=b[1]+u*(b[2]-b[1]);
    el('line',{x1:x1.toFixed(1),y1:yt,x2:x2.toFixed(1),y2:yb,stroke:'#c4c4c4','stroke-width':tp==2?2.6:1.4,'stroke-opacity':tp==2?0.75:tp==1?0.45:0.25});}}
rows.forEach(function(r){var y=r[0],x1=r[1],x2=r[2];
  [y,y+8].forEach(function(yy){el('rect',{x:x1,y:yy+2.5,width:x2-x1,height:1.5,fill:'#d8d8d8'});
    var x=x1+rnd()*5;
    while(x<x2-3){var w=rnd()<0.1?15+rnd()*35:2+rnd()*7;if(x+w>x2)w=x2-x;var q=rnd();var f,s;
      if(q<0.45){f='#4cb5ec';s='#3a9ad0';}else if(q<0.8){f='#d6d6d6';s='#888';}else if(q<0.95){f='#fff';s='#888';}else if(q<0.985){f='#f2f200';s='#888';}else{f='#e00';s='#a00';}
      el('rect',{x:x.toFixed(1),y:yy-2.5,width:w.toFixed(1),height:5,rx:2,fill:f,stroke:s,'stroke-width':0.5});
      x+=w+rnd()*10+(rnd()<0.1?rnd()*25:0);}
  });});

var mcx=1381,mcy=1050;
var d='M';for(i=0;i<=29;i++){d+=(i?'L':'')+P(mcx,mcy,221,345+i);}
el('path',{d:d,fill:'none',stroke:'#999','stroke-width':6});
function garc(cx,cy,r1,r2,a1,a2,dir,fill,stroke,tip){var rm=(r1+r2)/2;var s='M',i,n=Math.max(2,Math.ceil(Math.abs(a2-a1)));
  if(dir>0){var e=a2-tip;for(i=0;i<=n;i++)s+=(i?'L':'')+P(cx,cy,r2,a1+(e-a1)*i/n);s+='L'+P(cx,cy,rm,a2);for(i=n;i>=0;i--)s+='L'+P(cx,cy,r1,a1+(e-a1)*i/n);}
  else{var st=a1+tip;s+=P(cx,cy,rm,a1);for(i=0;i<=n;i++)s+='L'+P(cx,cy,r2,st+(a2-st)*i/n);for(i=n;i>=0;i--)s+='L'+P(cx,cy,r1,st+(a2-st)*i/n);}
  el('path',{d:s+'Z',fill:fill,stroke:stroke,'stroke-width':1.2});}
var pk='#f9d3df',gr='#c6e2a6';
[[14,35,gr,1],[36,70,gr,1],[72,93,pk,1],[97,120,pk,1],[128,162,pk,1],[165,180,pk,1],[181,185,pk,1],[185,200,pk,1],[200,217,pk,1],[218,226,pk,1],[227,233,pk,1],[234,264,pk,1],[268,307,pk,1],[307,319,pk,-1],[320,345,pk,1]].forEach(function(g){garc(mcx,mcy,207,236,g[0],g[1],g[3],g[2],'#888',2.5);});
[13,35.5,70.5,93.5,95,96.5,120.5,122,123.5,125,126.5,162.5,164,180.5,217.5,226.5,264.5,266,267.5,319.5,345.5,347].forEach(function(a){
  el('path',{d:'M'+P(mcx,mcy,209,a-0.8)+'L'+P(mcx,mcy,209,a+0.8)+'L'+P(mcx,mcy,221,a)+'Z'+'M'+P(mcx,mcy,233,a-0.8)+'L'+P(mcx,mcy,233,a+0.8)+'L'+P(mcx,mcy,221,a)+'Z',fill:'#a9c9ec',stroke:'#6a8fb8','stroke-width':0.6});});

var pcx=1983,pcy=1050;
el('circle',{cx:pcx,cy:pcy,r:243,fill:'none',stroke:'#888','stroke-width':2.5});
var cols=['#f4e400','#7de07d','#1f7b3c','#c01a2a','#8cc63f','#d9a878','#8ecbf0','#e06010','#1f7b3c','#8cc63f','#d9a878','#f4e400'];
var aa=0;
while(aa<358){var w2=0.5+rnd()*2.2;var out=rnd()<0.5;var c=cols[Math.floor(rnd()*cols.length)];
  var r1=out?212:192,r2=out?232:212;
  if(rnd()<0.4){var p1=P(pcx,pcy,r1,aa).split(','),p2=P(pcx,pcy,r2,aa).split(',');el('line',{x1:p1[0],y1:p1[1],x2:p2[0],y2:p2[1],stroke:'#222','stroke-width':1.5});}
  else garc(pcx,pcy,r1,r2,aa,aa+w2,rnd()<0.5?1:-1,c,'#444',Math.min(1,w2*0.4));
  if(rnd()<0.5){var q1=P(pcx,pcy,out?234:190,aa).split(','),q2=P(pcx,pcy,out?258:165,aa+(rnd()-0.5)*8).split(',');
    el('line',{x1:q1[0],y1:q1[1],x2:q2[0],y2:q2[1],stroke:'#b0b0b0','stroke-width':0.6});}
  aa+=w2+0.8+rnd()*3;}
[[35,44,'#c01a2a',1,0],[44,50,'#c01a2a',1,0],[52,62,'#c01a2a',1,0],[96,104,'#1f7b3c',1,1],[104,112,'#1f7b3c',1,1],[343,356,'#dcdcdc',1,1],[283,298,'#dcdcdc',1,1],[208,222,'#dcdcdc',1,0],[300,309,'#7de07d',1,1],[253,262,'#7de07d',1,1],[262,268,'#f4e400',-1,1],[272,277,'#f4e400',-1,1],[153,159,'#f4e400',1,0]].forEach(function(g){
  var o=g[4]?[192,212]:[212,234];garc(pcx,pcy,o[0],o[1],g[0],g[1],g[3],g[2],'#444',1.5);});

function arrow(x1,x2,yt,yb,dir,fill){var ym=(yt+yb)/2,h=Math.min(12,(x2-x1)*0.7);var p;
  if(dir>0)p=[[x1,yt],[x2-h,yt],[x2,ym],[x2-h,yb],[x1,yb]];else p=[[x1,ym],[x1+h,yt],[x2,yt],[x2,yb],[x1+h,yb]];
  el('polygon',{points:p.map(function(q){return q[0]+','+q[1];}).join(' '),fill:fill,stroke:'#000','stroke-width':1.6,'stroke-linejoin':'round'},LG);}
var C={T:'#f26b5b',H:'#fdcdb0',S:'#a6d6ea',TT:'#d49ec4',V:'#3f6f93',F:'#a6c08d',SS:'#7ec6cf',RG:'#9b6ee0',HR:'#2a7a50',LC:'#f5c518',LA:'#c8f2c8',RI:'#8b5e90',SE:'#b0507a',DR:'#f864ae',RC:'#d90010',LY:'#9a80e8',W:'#fff'};
var gls=document.querySelectorAll('#glabels text');
for(i=0;i<gls.length;i++){var gx=parseFloat(gls[i].getAttribute('x')),gy=parseFloat(gls[i].getAttribute('y'));
  el('line',{x1:gx,y1:gy+3,x2:gx,y2:1712,stroke:'#c4c4c4','stroke-width':0.8},LG);}
[[390,407,'T'],[407,478,'T'],[483,542,'H'],[542,571,'H'],[571,590,'H'],[590,603,'H'],[604,641,'H'],[641,655,'H'],[655,669,'H'],[669,693,'S'],[693,706,'S'],[706,733,'S'],[733,746,'S'],[746,763,'S'],[763,858,'TT'],[858,868,'TT'],[868,895,'TT'],[898,918,'TT'],[918,943,'TT'],[943,1069,'TT'],[1069,1090,'V'],[1090,1141,'F'],[1143,1179,'F'],[1179,1199,'F'],[1631,1651,'SE'],[1762,1785,'LA'],[1785,1819,'DR'],[1819,1844,'DR'],[1855,1872,'RC'],[1872,1904,'W'],[1904,1918,'W'],[1920,1943,'RC'],[1945,1965,'W'],[1970,1994,'LY'],[1996,2008,'W'],[2019,2035,'LY'],[2035,2051,'LY'],[2051,2066,'LY'],[2109,2121,'W']].forEach(function(g){arrow(g[0],g[1],1712,1749,1,C[g[2]]);});
[[1113,1136,'W'],[1202,1248,'W'],[1270,1303,'W'],[1303,1359,'W'],[1392,1430,'SS'],[1430,1442,'W'],[1442,1455,'W'],[1458,1470,'W'],[1474,1485,'W'],[1499,1510,'RG'],[1510,1518,'RG'],[1518,1547,'HR'],[1547,1575,'HR'],[1575,1584,'HR'],[1584,1592,'HR'],[1596,1606,'W'],[1608,1616,'W'],[1618,1628,'RI'],[1653,1667,'SE'],[1679,1700,'LC'],[1700,1729,'LC'],[1732,1757,'LA'],[2062,2078,'V'],[2083,2106,'W']].forEach(function(g){arrow(g[0],g[1],1763,1802,-1,C[g[2]]);});
})();
</script>
</body></html>
